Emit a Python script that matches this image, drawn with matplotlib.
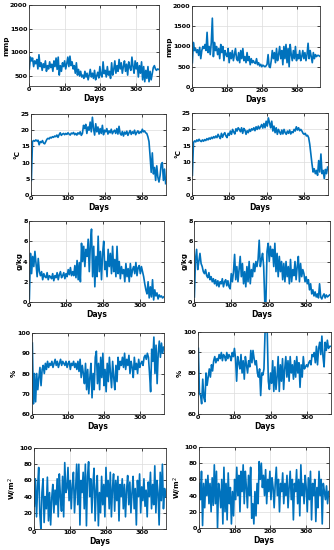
import numpy as np
import matplotlib
matplotlib.use("Agg")
import matplotlib.pyplot as plt

# day index (every 3rd day of the year)
days = np.arange(1, 366, 3)

# ---- pressure-like series (mmp) ----
mmp_a = [650, 900, 820, 880, 700, 820, 760, 850, 650, 950,
         700, 780, 620, 760, 680, 820, 600, 720, 650, 800,
         680, 750, 600, 820, 700, 880, 640, 900, 520, 720,
         600, 780, 700, 820, 650, 760, 900, 700, 920, 720,
         800, 650, 720, 560, 780, 520, 640, 500, 600, 480,
         520, 450, 600, 480, 560, 420, 520, 640, 480, 560,
         450, 620, 420, 500, 580, 460, 700, 520, 480, 800,
         550, 620, 480, 700, 520, 600, 450, 780, 520, 640,
         820, 560, 720, 600, 850, 650, 780, 560, 700, 820,
         600, 750, 520, 800, 680, 620, 900, 700, 560, 820,
         650, 780, 480, 720, 560, 800, 420, 700, 380, 620,
         450, 700, 380, 600, 420, 550, 680, 720, 650, 620,
         650, 640]
mmp_b = [600, 1100, 900, 950, 850, 920, 780, 980, 700, 900,
         1000, 950, 1050, 900, 1350, 850, 1000, 800, 1100, 1700,
         750, 1100, 900, 1000, 800, 950, 700, 1050, 850, 1000,
         650, 900, 800, 750, 950, 600, 850, 700, 900, 650,
         800, 950, 700, 650, 850, 600, 900, 700, 950, 650,
         750, 600, 850, 650, 750, 550, 700, 600, 650, 600,
         580, 700, 550, 600, 520, 560, 500, 540, 520, 500,
         520, 560, 800, 500, 480, 650, 900, 700, 850, 600,
         950, 650, 800, 1000, 700, 900, 550, 1000, 700, 1050,
         600, 950, 500, 1050, 800, 650, 900, 700, 1000, 650,
         800, 700, 900, 650, 750, 900, 700, 850, 650, 800,
         1080, 700, 900, 750, 600, 850, 700, 800, 750, 780,
         780, 760]

# ---- temperature (°C) ----
temp_a = [4.5, 16.5, 16.8, 16.6, 17, 16.7, 16.9, 15.5, 16.5, 16.2,
          16.8, 16.0, 15.8, 16.5, 17.2, 17.5, 17.3, 17.8, 17.6, 18.0,
          17.8, 18.2, 18.0, 18.5, 17.8, 18.6, 19.2, 18.4, 18.8, 19.0,
          18.6, 19.0, 18.7, 19.2, 18.8, 18.5, 19.1, 18.9, 19.3, 18.6,
          19.0, 18.5, 19.2, 18.8, 19.5, 18.4, 19.0, 21.5, 20.5, 21.8,
          19.0, 21.0, 20.0, 22.5, 19.5, 24.0, 20.5, 18.5, 22.0, 19.5,
          21.0, 18.8, 20.5, 19.0, 21.5, 18.6, 20.0, 19.5, 20.5, 18.8,
          19.8, 19.2, 20.3, 18.9, 19.6, 20.0, 19.0, 20.5, 18.8, 21.2,
          19.0, 18.5, 19.6, 18.2, 19.4, 18.8, 19.7, 18.4, 19.2, 19.9,
          18.7, 19.5, 19.0, 20.0, 18.6, 19.3, 19.8, 19.0, 19.5, 19.2,
          20.3, 19.5, 19.8, 19.2, 19.0, 18.0, 16.5, 12.0, 7.0, 13.0,
          6.5, 8.5, 4.5, 9.0, 5.5, 4.0, 6.0, 9.5, 10.0, 4.5,
          8.0, 3.5]
temp_b = [6.0, 16.0, 16.5, 16.2, 16.8, 16.4, 17.0, 16.5, 16.3, 16.8,
          16.4, 16.9, 16.6, 17.2, 16.8, 17.4, 17.0, 17.6, 17.2, 17.8,
          17.4, 18.0, 17.5, 18.5, 17.8, 17.2, 18.8, 17.6, 18.5, 19.0,
          18.0, 17.5, 18.8, 18.2, 19.5, 18.5, 20.0, 19.2, 18.6, 20.2,
          19.5, 20.5, 20.0, 19.3, 20.5, 18.8, 20.3, 19.8, 18.5, 19.6,
          19.0, 20.0, 19.4, 20.2, 19.8, 20.5, 19.6, 20.8, 20.0, 21.0,
          20.2, 20.8, 21.5, 20.4, 21.8, 20.5, 22.5, 21.0, 23.5, 22.0,
          20.5, 22.5, 19.5, 21.0, 19.0, 20.5, 18.5, 20.0, 19.2, 18.5,
          19.8, 18.6, 20.0, 19.0, 18.5, 19.5, 18.8, 19.8, 18.6, 19.3,
          19.0, 20.0, 19.5, 20.8, 19.8, 20.5, 19.6, 20.0, 19.5, 18.8,
          18.5, 18.8, 18.0, 18.2, 17.5, 15.5, 12.5, 9.5, 7.0, 8.0,
          6.5, 7.5, 6.0, 10.5, 7.0, 12.5, 6.5, 7.5, 5.0, 7.8,
          6.5, 8.5]

# ---- specific humidity (g/kg) ----
hum_a = [0.3, 4.8, 2.8, 4.5, 3.5, 5.0, 3.8, 2.5, 4.3, 3.0,
         2.6, 3.0, 2.2, 2.8, 2.5, 2.4, 2.9, 2.2, 2.6, 2.5,
         2.3, 2.8, 2.1, 2.6, 2.4, 2.9, 2.2, 2.7, 3.0, 2.4,
         2.6, 2.9, 2.3, 2.8, 2.5, 3.2, 2.7, 3.4, 2.6, 3.0,
         2.6, 3.6, 2.4, 4.1, 2.2, 3.9, 2.0, 5.8, 4.0, 5.5,
         3.5, 5.2, 4.5, 6.2, 3.0, 5.8, 7.2, 2.5, 5.5, 1.5,
         4.5, 2.5, 6.5, 3.0, 5.0, 2.2, 4.8, 6.0, 3.2, 4.0,
         2.5, 5.2, 3.5, 4.8, 2.8, 5.5, 3.0, 4.2, 2.5, 5.5,
         2.8, 4.0, 2.3, 3.5, 2.8, 3.2, 2.0, 3.8, 2.5, 3.3,
         2.0, 3.8, 2.5, 3.2, 3.5, 2.8, 3.9, 2.6, 3.4, 3.6,
         2.8, 3.5, 3.0, 2.5, 1.8, 1.2, 0.8, 2.0, 0.4, 1.5,
         0.5, 2.2, 0.2, 1.2, 0.6, 0.9, 0.3, 0.7, 0.5, 0.6,
         0.4, 0.5]
hum_b = [0.5, 4.2, 5.2, 3.2, 4.0, 4.8, 3.8, 3.5, 3.0, 2.8,
         3.2, 2.6, 2.4, 2.9, 2.2, 2.5, 2.0, 2.3, 1.8, 2.2,
         1.6, 2.1, 1.5, 2.0, 1.8, 2.3, 1.5, 2.0, 2.2, 1.6,
         2.1, 1.5, 1.3, 2.8, 2.0, 3.0, 4.7, 2.2, 3.5, 2.0,
         3.2, 4.5, 2.5, 3.8, 1.8, 3.0, 1.5, 3.5, 2.0, 4.0,
         1.8, 3.2, 2.5, 3.8, 3.0, 4.0, 3.5, 4.2, 6.1, 3.5,
         4.2, 4.8, 3.5, 0.0, 0.0, 5.0, 5.8, 4.0, 5.5, 4.5,
         5.2, 3.5, 5.8, 3.0, 4.8, 2.5, 4.5, 3.0, 4.0, 2.2,
         3.8, 2.0, 4.0, 2.5, 3.5, 1.8, 4.2, 2.0, 3.2, 2.6,
         4.0, 2.2, 3.5, 4.5, 2.0, 3.8, 2.5, 3.2, 2.8, 2.0,
         2.5, 1.8, 2.2, 1.2, 1.8, 0.8, 1.2, 0.6, 1.0, 0.5,
         0.8, 0.4, 1.8, 0.5, 0.3, 0.6, 0.8, 0.4, 0.7, 0.5,
         0.6, 0.7]

# ---- relative humidity (%) ----
rh_a = [95, 65, 80, 66, 80, 72, 78, 83, 74, 82,
        84, 80, 85, 82, 86, 83, 85, 84, 86, 83,
        85, 87, 84, 86, 83, 85, 87, 84, 86, 85,
        84, 86, 83, 85, 86, 82, 85, 84, 86, 83,
        85, 82, 86, 81, 87, 78, 84, 80, 75, 85,
        72, 82, 70, 78, 85, 68, 80, 72, 88, 91,
        75, 85, 72, 88, 78, 90, 74, 82, 71, 85,
        76, 88, 80, 73, 86, 78, 72, 84, 76, 88,
        82, 86, 84, 88, 83, 90, 82, 87, 84, 89,
        80, 86, 83, 78, 88, 82, 85, 80, 87, 83,
        85, 86, 84, 88, 89, 87, 90, 88, 80, 71,
        92, 86, 98, 80, 94, 75, 90, 96, 88, 95,
        90, 93]
rh_b = [92, 70, 69, 65, 77, 68, 66, 80, 74, 78,
        82, 78, 84, 81, 86, 88, 85, 87, 86, 89,
        87, 90, 86, 89, 88, 86, 90, 87, 89, 88,
        86, 90, 88, 92, 87, 76, 88, 85, 82, 89,
        80, 86, 77, 88, 84, 80, 86, 83, 91, 85,
        91, 87, 84, 86, 80, 78, 82, 69, 80, 79,
        82, 100, 100, 100, 76, 72, 80, 75, 86, 71,
        83, 72, 78, 88, 71, 84, 76, 87, 72, 82,
        88, 78, 86, 76, 88, 80, 84, 77, 86, 78,
        88, 80, 85, 73, 84, 78, 88, 82, 83, 84,
        83, 85, 86, 84, 89, 88, 90, 85, 93, 84,
        92, 95, 89, 98, 88, 83, 95, 91, 96, 92,
        93, 93]

# ---- radiation (W/m^2) ----
rad_a = [28, 62, 15, 52, 76, 20, 0, 45, 62, 8,
         40, 25, 64, 10, 45, 5, 38, 55, 20, 48,
         30, 62, 15, 68, 40, 22, 65, 15, 82, 45,
         50, 76, 35, 60, 25, 55, 70, 20, 48, 80,
         30, 80, 5, 60, 45, 70, 25, 80, 4, 65,
         83, 40, 62, 20, 55, 75, 10, 48, 66, 4,
         45, 20, 65, 30, 55, 15, 76, 40, 60, 25,
         70, 15, 50, 68, 22, 60, 35, 65, 10, 55,
         40, 62, 25, 55, 15, 48, 66, 30, 58, 20,
         45, 65, 25, 50, 5, 60, 40, 68, 20, 52,
         35, 62, 28, 48, 15, 58, 40, 70, 25, 55,
         30, 78, 20, 60, 45, 5, 70, 35, 80, 25,
         50, 40]
rad_b = [55, 35, 70, 3, 55, 25, 60, 40, 65, 30,
         55, 20, 62, 28, 78, 30, 70, 0, 55, 45,
         25, 60, 5, 75, 20, 55, 10, 68, 30, 50,
         5, 45, 15, 60, 35, 75, 40, 65, 20, 70,
         45, 78, 30, 70, 50, 25, 65, 40, 75, 12,
         30, 5, 45, 15, 55, 30, 82, 60, 80, 50,
         65, 40, 72, 30, 60, 45, 70, 35, 62, 50,
         25, 55, 75, 40, 60, 20, 55, 45, 68, 30,
         55, 40, 65, 25, 50, 70, 35, 60, 10, 55,
         45, 72, 30, 60, 15, 78, 40, 55, 30, 65,
         50, 20, 62, 35, 70, 10, 55, 40, 60, 8,
         50, 25, 70, 40, 60, 5, 55, 45, 35, 52,
         30, 45]

W, H = 334, 550
fig = plt.figure(figsize=(W / 100, H / 100), dpi=100)


def pos(l, t, r, b):
    # pixel box -> figure fraction
    return [l / W, 1 - b / H, (r - l) / W, (b - t) / H]


panels = [
    (pos(29, 5, 159, 86), mmp_a, "mmp", (290, 2000), [500, 1000, 1500, 2000]),
    (pos(192, 6, 320, 87), mmp_b, "mmp", (0, 2000), [0, 500, 1000, 1500, 2000]),
    (pos(31, 114, 166, 195), temp_a, "°C", (0, 25), [0, 5, 10, 15, 20, 25]),
    (pos(192, 113, 328, 195), temp_b, "°C", (0, 25), [0, 5, 10, 15, 20, 25]),
    (pos(29, 221, 164, 302), hum_a, "g/kg", (0, 8), [0, 2, 4, 6, 8]),
    (pos(194, 221, 330, 302), hum_b, "g/kg", (0, 8), [0, 2, 4, 6, 8]),
    (pos(32, 333, 164, 414), rh_a, "%", (60, 100), [60, 70, 80, 90, 100]),
    (pos(198, 332, 331, 414), rh_b, "%", (60, 100), [60, 70, 80, 90, 100]),
    (pos(34, 448, 166, 529), rad_a, "W/m$^2$", (0, 100), [0, 20, 40, 60, 80, 100]),
    (pos(199, 447, 329, 528), rad_b, "W/m$^2$", (0, 100), [0, 20, 40, 60, 80, 100]),
]

for rect, vals, ylab, ylim, yt in panels:
    ax = fig.add_axes(rect)
    ax.plot(days, vals, color="#0072BD", lw=1.2)
    ax.set_xlim(0, 365)
    ax.set_ylim(*ylim)
    ax.set_xticks([0, 100, 200, 300])
    ax.set_yticks(yt)
    ax.grid(True, color="#dcdcdc", lw=0.5)
    ax.set_axisbelow(True)
    ax.tick_params(direction="in", length=2, width=0.5, labelsize=4.6,
                   pad=1, top=True, right=True)
    for lbl in ax.get_xticklabels() + ax.get_yticklabels():
        lbl.set_fontweight("bold")
    for s in ax.spines.values():
        s.set_linewidth(0.6)
        s.set_color("#333333")
    ax.set_xlabel("Days", fontsize=5.5, fontweight="bold", labelpad=1)
    ax.set_ylabel(ylab, fontsize=5.2, fontweight="bold", labelpad=0.5)

fig.savefig("out.png", dpi=100)
